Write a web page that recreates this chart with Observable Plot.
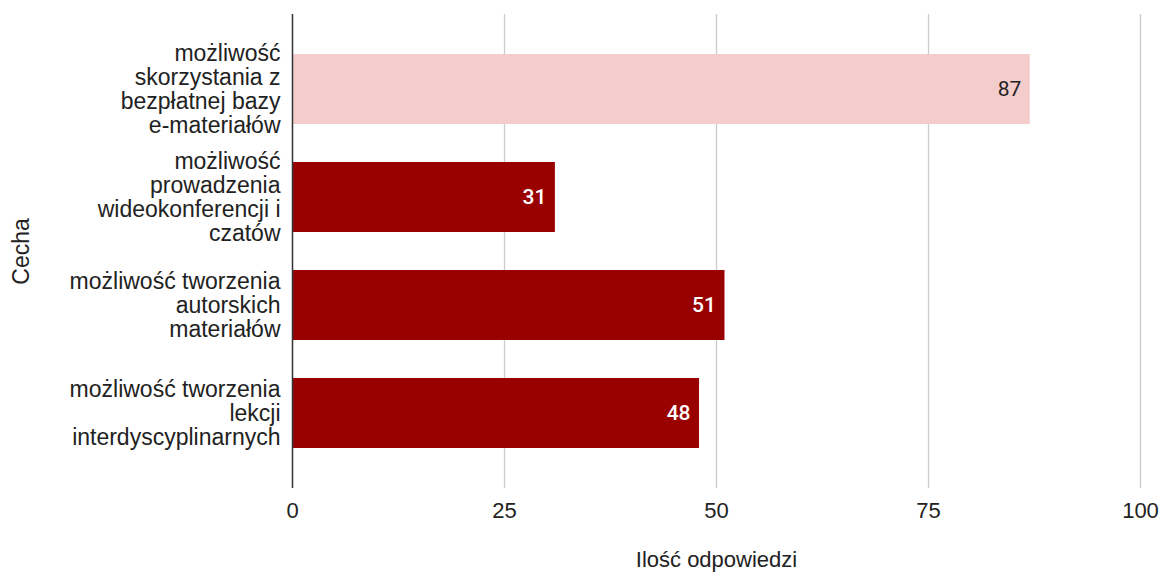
<!DOCTYPE html>
<html><head><meta charset="utf-8">
<script src="https://cdn.jsdelivr.net/npm/d3@7"></script>
<script src="https://cdn.jsdelivr.net/npm/@observablehq/plot@0.6"></script>
<style>body{margin:0;background:#fff;} svg{display:block;}</style>
</head><body><div id="chart"></div>
<script>
const categories = [
  "możliwość\nskorzystania z\nbezpłatnej bazy\ne-materiałów",
  "możliwość\nprowadzenia\nwideokonferencji i\nczatów",
  "możliwość tworzenia\nautorskich\nmateriałów",
  "możliwość tworzenia\nlekcji\ninterdyscyplinarnych"
];
const values = [87, 31, 51, 48];
const highlighted = [true, false, false, false];
const xTicks = [0, 25, 50, 75, 100];
const xTitle = "Ilość odpowiedzi";
const yTitle = "Cecha";

const data = categories.map((c, i) => ({cat: c, value: values[i], hl: highlighted[i]}));
const FONT = "'Liberation Sans', Arial, sans-serif";

const chart = Plot.plot({
  width: 1163, height: 578,
  marginTop: 14, marginBottom: 90, marginLeft: 292, marginRight: 23,
  style: {fontFamily: FONT, fontSize: "22px", color: "#222", background: "#fff"},
  x: {domain: [0, 100]},
  y: {domain: categories, paddingInner: 0.355, paddingOuter: 0.36},
  marks: [
    Plot.gridX(xTicks.slice(1), {stroke: "#cccccc", strokeOpacity: 1, strokeWidth: 1.3}),
    Plot.barX(data, {y: "cat", x: "value", fill: d => d.hl ? "#f4cccc" : "#990000"}),
    Plot.text(data.filter(d => d.hl), {y: "cat", x: "value", text: d => String(d.value), textAnchor: "end", dx: -9,
      fill: "#222222", fontSize: 21, fontFamily: "Roboto, sans-serif"}),
    Plot.text(data.filter(d => !d.hl), {y: "cat", x: "value", text: d => String(d.value), textAnchor: "end", dx: -9,
      fill: "#ffffff", fontSize: 21, fontFamily: "Roboto, sans-serif", fontWeight: 500}),
    Plot.ruleX([0], {stroke: "#333333", strokeWidth: 1.5}),
    Plot.axisX(xTicks, {tickSize: 0, tickPadding: 14, fontSize: 22, fill: "#222", label: xTitle,
      labelAnchor: "center", labelArrow: "none", labelOffset: 78}),
    Plot.axisY({tickSize: 0, tickPadding: 12, fontSize: 23, lineHeight: 1.05, fill: "#222",
      label: yTitle, labelAnchor: "center", labelArrow: "none", labelOffset: 280})
  ]
});
document.getElementById("chart").appendChild(chart);
</script></body></html>
